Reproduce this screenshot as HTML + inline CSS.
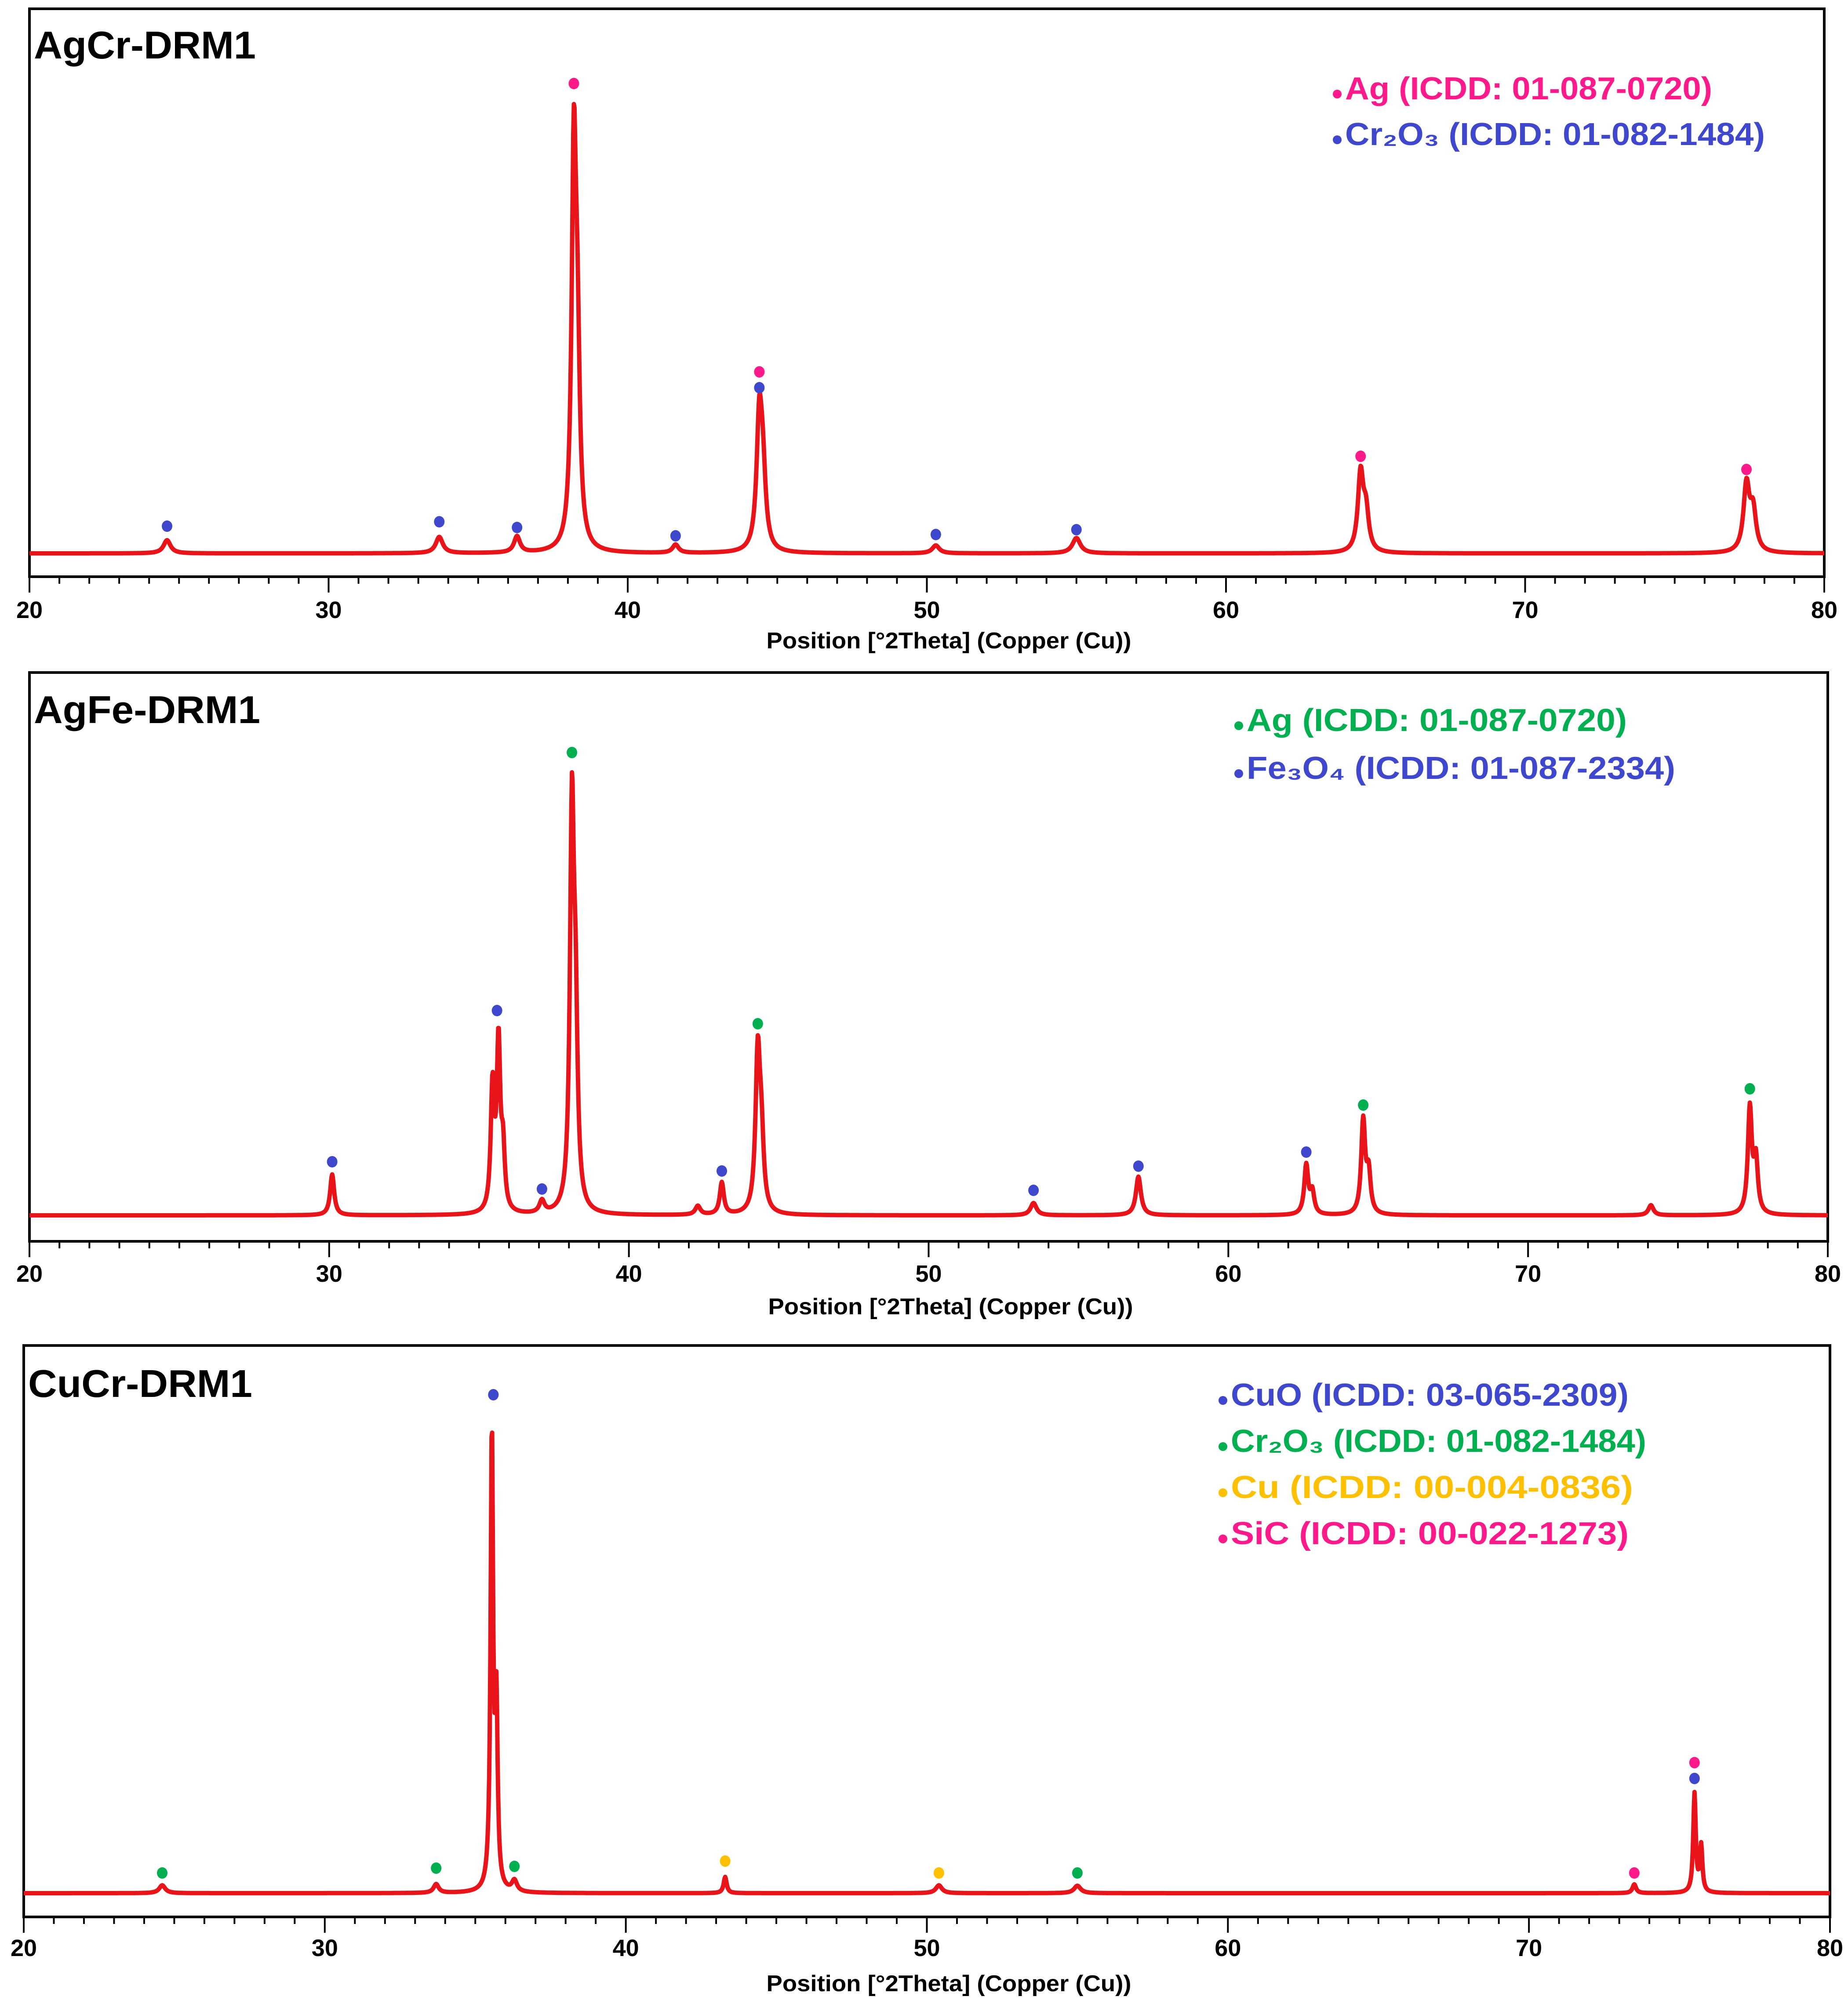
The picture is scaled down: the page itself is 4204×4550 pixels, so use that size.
<!DOCTYPE html>
<html><head><meta charset="utf-8"><style>
html,body{margin:0;padding:0;background:#fff;}
svg{display:block;}
text{font-family:"Liberation Sans",sans-serif;font-weight:bold;}
</style></head>
<body>
<svg id="chart" width="4204" height="4550" viewBox="0 0 4204 4550" xmlns="http://www.w3.org/2000/svg"></svg>
<script>
// ---- Panel 1: AgCr-DRM1 ----
const p1PeakPos = [24.6, 33.7, 36.3, 38.2, 38.32, 41.6, 44.4, 44.52, 50.3, 55.0, 64.5, 64.68, 77.4, 77.62];
const p1PeakHeight = [30, 37, 37, 885, 380, 19, 292, 150, 18, 35, 176, 85, 151, 90];
const p1PeakWidth = [0.14, 0.14, 0.12, 0.09, 0.09, 0.12, 0.11, 0.11, 0.14, 0.16, 0.11, 0.11, 0.12, 0.12];
const p1MarkPos = [24.6, 33.7, 36.3, 38.2, 41.6, 44.4, 44.4, 50.3, 55.0, 64.5, 77.4];
const p1MarkHeight = [62, 72, 59, 1069, 40, 413, 377, 43, 54, 221, 191];
const p1MarkColor = ["blue","blue","blue","pink","blue","pink","blue","blue","blue","pink","pink"];
const p1Legend = [["pink","Ag (ICDD: 01-087-0720)"],["blue","Cr\u2082O\u2083  (ICDD: 01-082-1484)"]];

// ---- Panel 2: AgFe-DRM1 ----
const p2PeakPos = [30.1, 35.45, 35.65, 35.8, 37.1, 38.1, 38.22, 42.3, 43.1, 44.3, 44.42, 53.5, 57.0, 62.6, 62.8, 64.5, 64.68, 74.1, 77.4, 77.6];
const p2PeakHeight = [93, 280, 378, 130, 28, 890, 380, 20, 73, 355, 150, 28, 88, 112, 50, 212, 90, 23, 240, 120];
const p2PeakWidth = [0.08, 0.07, 0.07, 0.07, 0.1, 0.08, 0.08, 0.1, 0.08, 0.09, 0.09, 0.12, 0.1, 0.08, 0.08, 0.08, 0.08, 0.1, 0.08, 0.08];
const p2MarkPos = [30.1, 35.6, 37.1, 38.1, 43.1, 44.3, 53.5, 57.0, 62.6, 64.5, 77.4];
const p2MarkHeight = [122, 466, 60, 1053, 101, 436, 57, 112, 144, 251, 288];
const p2MarkColor = ["blue","blue","blue","green","blue","green","blue","blue","blue","green","green"];
const p2Legend = [["green","Ag (ICDD: 01-087-0720)"],["blue","Fe\u2083O\u2084 (ICDD: 01-087-2334)"]];

// ---- Panel 3: CuCr-DRM1 ----
const p3PeakPos = [24.6, 33.7, 35.55, 35.7, 36.3, 43.3, 50.4, 55.0, 73.5, 75.5, 75.72];
const p3PeakHeight = [18, 20, 1042, 400, 25, 37, 18, 17, 20, 225, 105];
const p3PeakWidth = [0.12, 0.1, 0.05, 0.05, 0.1, 0.06, 0.12, 0.13, 0.07, 0.05, 0.05];
const p3MarkPos = [24.6, 33.7, 35.6, 36.3, 43.3, 50.4, 55.0, 73.5, 75.5, 75.5];
const p3MarkHeight = [46, 57, 1134, 61, 73, 46, 46, 46, 297, 261];
const p3MarkColor = ["green","green","blue","green","yellow","yellow","green","pink","pink","blue"];
const p3Legend = [["blue","CuO (ICDD: 03-065-2309)"],["green","Cr\u2082O\u2083 (ICDD: 01-082-1484)"],["yellow","Cu (ICDD: 00-004-0836)"],["pink","SiC (ICDD: 00-022-1273)"]];

const xTicks = [20, 30, 40, 50, 60, 70, 80];

const COLORS = {pink:"#ff1a8c", blue:"#3f48cc", green:"#00b050", yellow:"#ffc000"};
const NS = "http://www.w3.org/2000/svg";
const svg = document.getElementById("chart");

function mk(tag, attrs, parent){
  const e = document.createElementNS(NS, tag);
  for (const k in attrs) e.setAttribute(k, attrs[k]);
  parent.appendChild(e);
  return e;
}

function drawPanel(cfg){
  const g = mk("g", {}, svg);
  
  
  const xScale = v => cfg.left + (v - 20) / 60 * (cfg.right - cfg.left);
  const yScale = v => cfg.base - v;

  const frame = mk("rect", {x:cfg.left, y:cfg.top, width:cfg.right-cfg.left, height:cfg.axisY-cfg.top, fill:"none", stroke:"#000", "stroke-width":6}, g);
  
  

  for (let v = 20; v <= 80; v++) {
    const major = v % 10 === 0;
    const t = mk("line", {x1:xScale(v), x2:xScale(v), y1:cfg.axisY, y2:cfg.axisY + (major ? 36 : 16), stroke:"#000", "stroke-width":4}, g);
    
    
  }
  xTicks.forEach(v => {
    const t = mk("text", {x:xScale(v), y:cfg.tickY, "font-size":54, "text-anchor":"middle", fill:"#000"}, g);
    t.textContent = v;
    
    
  });
  const xl = mk("text", {x:(cfg.left+cfg.right)/2 + 50, y:cfg.labelY, "font-size":52, "text-anchor":"middle", fill:"#000", textLength:830, lengthAdjust:"spacingAndGlyphs"}, g);
  xl.textContent = "Position [\u00b02Theta] (Copper (Cu))";
  
  

  const tt = mk("text", {x:cfg.left + 10, y:cfg.titleY, "font-size":88, fill:"#000", textLength:cfg.titleLen, lengthAdjust:"spacingAndGlyphs"}, g);
  tt.textContent = cfg.title;
  
  

  let d = "";
  for (let i = 0; i <= 3000; i++) {
    const x = 20 + i * 0.02;
    let y = 0;
    for (let k = 0; k < cfg.pos.length; k++) {
      const w = cfg.wid[k], dx = x - cfg.pos[k];
      y += cfg.hgt[k] * (w*w) / (dx*dx + w*w);
    }
    d += (i ? "L" : "M") + xScale(x).toFixed(1) + "," + yScale(y).toFixed(1);
  }
  const line = mk("path", {d:d, fill:"none", stroke:"#e8141a", "stroke-width":10, "stroke-linejoin":"round"}, g);
  
  

  cfg.mPos.forEach((p, i) => {
    const c = mk("ellipse", {cx:xScale(p), cy:yScale(cfg.mHgt[i]), rx:12, ry:13, fill:COLORS[cfg.mCol[i]]}, g);
    
    
  });

  cfg.legend.forEach((e, i) => {
    const y = cfg.legY + i * cfg.legGap;
    const dot = mk("circle", {cx:cfg.legX, cy:y - 12, r:10, fill:COLORS[e[0]]}, g);
    
    
    const t = mk("text", {x:cfg.legX + 18, y:y, "font-size":72, fill:COLORS[e[0]], textLength:cfg.legLen[i], lengthAdjust:"spacingAndGlyphs"}, g);
    t.textContent = e[1];
    
    
  });
}

drawPanel({name:"panel-agcr", title:"AgCr-DRM1", titleLen:505, left:67, right:4150, top:20, axisY:1312, base:1259, tickY:1406, labelY:1475, titleY:133,
  pos:p1PeakPos, hgt:p1PeakHeight, wid:p1PeakWidth, mPos:p1MarkPos, mHgt:p1MarkHeight, mCol:p1MarkColor,
  legend:p1Legend, legX:3042, legY:226, legGap:104, legLen:[835, 955]});
drawPanel({name:"panel-agfe", title:"AgFe-DRM1", titleLen:515, left:67, right:4158, top:1530, axisY:2824, base:2765, tickY:2916, labelY:2990, titleY:1645,
  pos:p2PeakPos, hgt:p2PeakHeight, wid:p2PeakWidth, mPos:p2MarkPos, mHgt:p2MarkHeight, mCol:p2MarkColor,
  legend:p2Legend, legX:2818, legY:1663, legGap:109, legLen:[865, 975]});
drawPanel({name:"panel-cucr", title:"CuCr-DRM1", titleLen:510, left:54, right:4163, top:3061, axisY:4361, base:4307, tickY:4450, labelY:4530, titleY:3178,
  pos:p3PeakPos, hgt:p3PeakHeight, wid:p3PeakWidth, mPos:p3MarkPos, mHgt:p3MarkHeight, mCol:p3MarkColor,
  legend:p3Legend, legX:2782, legY:3198, legGap:105, legLen:[905, 945, 915, 905]});
</script>
</body></html>
